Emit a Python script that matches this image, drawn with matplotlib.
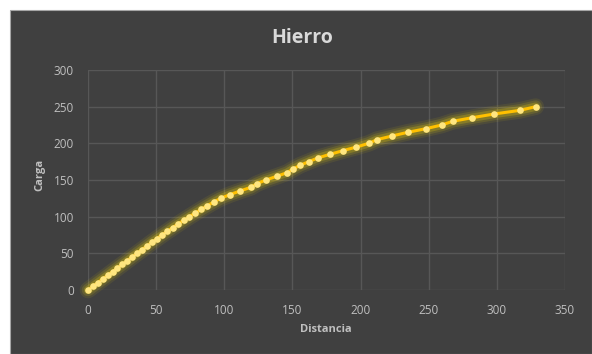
import matplotlib.pyplot as plt
from matplotlib.patches import Rectangle

# Ensayo de tracción del hierro: carga aplicada cada 5 unidades
carga = [0, 5, 10, 15, 20, 25, 30, 35, 40, 45, 50, 55, 60, 65, 70, 75, 80, 85,
         90, 95, 100, 105, 110, 115, 120, 125, 130, 135, 140, 145, 150, 155,
         160, 165, 170, 175, 180, 185, 190, 195, 200, 205, 210, 215, 220, 225,
         230, 235, 240, 245, 250]
distancia = [0, 3.6, 7.2, 10.8, 14.4, 18.0, 21.6, 25.2, 28.8, 32.4, 36.0, 39.6,
             43.2, 46.8, 50.5, 54.3, 58.2, 62.1, 66.1, 70.2, 74.4, 78.7, 83.1,
             87.6, 92.3, 97.3, 104.0, 111.5, 119.5, 124.0, 130.5, 138.5, 146.0,
             150.5, 155.5, 162.0, 168.5, 177.5, 187.0, 197.0, 206.0, 212.0,
             223.0, 234.5, 248.0, 259.5, 267.5, 282.0, 298.0, 317.0, 328.5]
xticks = [0, 50, 100, 150, 200, 250, 300, 350]
yticks = [0, 50, 100, 150, 200, 250, 300]

W, H = 592, 354
fondo = '#404040'
texto = '#BFBFBF'
rejilla = '#575757'

fig = plt.figure(figsize=(W / 100, H / 100), dpi=100, facecolor='white')
fig.patches.append(Rectangle((10 / W, 0), 1 - 10 / W, 1 - 10 / H,
                             transform=fig.transFigure, facecolor=fondo,
                             edgecolor='#A6A6A6', linewidth=0.8, zorder=-10))

ax = fig.add_axes([88 / W, 64 / H, 477 / W, 220 / H])
ax.set_facecolor(fondo)
ax.set_xlim(0, 350)
ax.set_ylim(0, 300)
ax.set_xticks(xticks)
ax.set_yticks(yticks)
ax.grid(True, color=rejilla, linewidth=1)
ax.set_axisbelow(True)
for s in ax.spines.values():
    s.set_visible(False)
ax.tick_params(length=0, colors=texto, labelsize=8.5, pad=10)
for lab in ax.get_xticklabels() + ax.get_yticklabels():
    lab.set_family('Open Sans')

# halo amarillo alrededor de la serie
for lw, a in [(12, 0.08), (9, 0.13), (6, 0.22)]:
    ax.plot(distancia, carga, color='#FFE000', linewidth=lw, alpha=a,
            solid_capstyle='round', zorder=2, clip_on=False)
ax.plot(distancia, carga, color='#FFC000', linewidth=2.2, zorder=3,
        clip_on=False)
ax.plot(distancia, carga, 'o', color='#FFE680', markersize=4.8,
        markeredgewidth=0, zorder=4, clip_on=False)

fig.text(302 / W, 1 - 38 / H, 'Hierro', ha='center', va='center',
         fontsize=14, fontweight='bold', color='#D9D9D9', family='Open Sans')
fig.text(326 / W, 1 - 330 / H, 'Distancia', ha='center', va='center',
         fontsize=8, fontweight='bold', color=texto, family='Open Sans')
fig.text(40 / W, 1 - 175 / H, 'Carga', ha='center', va='center',
         rotation=90, fontsize=8, fontweight='bold', color=texto,
         family='Open Sans')

fig.savefig('out.png', dpi=100, facecolor='white')
